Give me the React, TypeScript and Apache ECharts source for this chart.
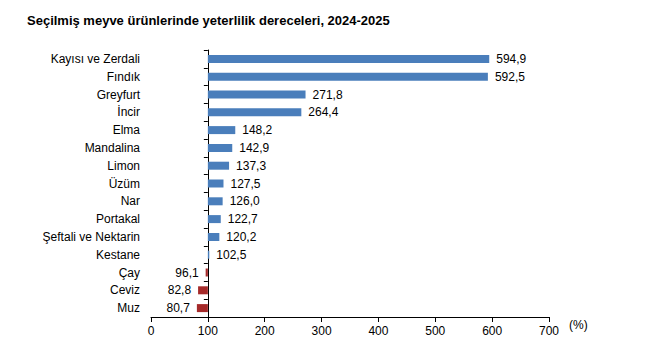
import React, { useEffect, useRef } from "react";
import * as echarts from "echarts";

const categories = [
  "Kayısı ve Zerdali",
  "Fındık",
  "Greyfurt",
  "İncir",
  "Elma",
  "Mandalina",
  "Limon",
  "Üzüm",
  "Nar",
  "Portakal",
  "Şeftali ve Nektarin",
  "Kestane",
  "Çay",
  "Ceviz",
  "Muz",
];
const values = [594.9, 592.5, 271.8, 264.4, 148.2, 142.9, 137.3, 127.5, 126.0, 122.7, 120.2, 102.5, 96.1, 82.8, 80.7];
const baseline = 100;
const axisMin = 0;
const axisMax = 700;

const fmt = (v: number) => v.toFixed(1).replace(".", ",");

export default function App() {
  const ref = useRef<HTMLDivElement>(null);
  useEffect(() => {
    if (!ref.current) return;
    const chart = echarts.init(ref.current, undefined, { renderer: "svg" });
    const font = "'Liberation Sans', Arial, sans-serif";
    chart.setOption({
      animation: false,
      textStyle: { fontFamily: font },
      title: {
        text: "Seçilmiş meyve ürünlerinde yeterlilik dereceleri, 2024-2025",
        left: 14,
        top: 1,
        textStyle: { fontSize: 13, fontWeight: "bold", color: "#000", fontFamily: font },
      },
      grid: { left: 143, right: 89, top: 42, bottom: 35, outerBoundsMode: "none", containLabel: false },
      xAxis: {
        type: "value",
        min: axisMin - baseline,
        max: axisMax - baseline,
        interval: 100,
        splitLine: { show: false },
        axisLine: { show: true, onZero: false, lineStyle: { color: "#000", width: 1 } },
        axisTick: { show: true, length: 5, lineStyle: { color: "#000" } },
        axisLabel: {
          formatter: (v: number) => String(v + baseline),
          color: "#000",
          fontSize: 12,
          margin: 8,
          fontFamily: font,
        },
        name: "(%)",
        nameLocation: "end",
        nameGap: 20,
        nameTextStyle: { color: "#000", fontSize: 12, verticalAlign: "top", padding: [2, 0, 0, 0], fontFamily: font },
      },
      yAxis: {
        type: "category",
        inverse: true,
        data: categories,
        axisLine: { show: true, onZero: true, lineStyle: { color: "#000", width: 1 } },
        axisTick: { show: true, length: 4, lineStyle: { color: "#000" } },
        axisLabel: { color: "#000", fontSize: 12, margin: 11, fontFamily: font },
      },
      series: [
        {
          type: "bar",
          barWidth: 8,
          data: values.map((v) => ({
            value: v - baseline,
            itemStyle: { color: v >= baseline ? "#4A7EBB" : "#A52A2A" },
            label: {
              show: true,
              position: v >= baseline ? "right" : "left",
              distance: 7,
              formatter: () => fmt(v),
              color: "#000",
              fontSize: 12,
              fontFamily: font,
            },
          })),
        },
      ],
    });
    return () => chart.dispose();
  }, []);
  return <div ref={ref} style={{ width: 630, height: 344 }} />;
}
